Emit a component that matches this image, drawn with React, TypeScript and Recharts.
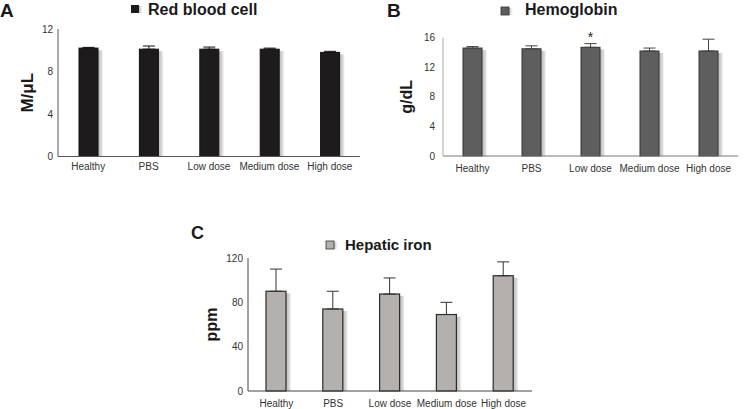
import React from 'react';
import { BarChart, Bar, XAxis, YAxis, ErrorBar, Label } from 'recharts';

const categories = ['Healthy', 'PBS', 'Low dose', 'Medium dose', 'High dose'];

const rbcValues = [10.2, 10.1, 10.1, 10.1, 9.8];
const rbcErrors = [0.07, 0.3, 0.2, 0.1, 0.1];
const rbcTicks = [0, 4, 8, 12];

const hgbValues = [14.6, 14.5, 14.7, 14.2, 14.2];
const hgbErrors = [0.2, 0.4, 0.5, 0.4, 1.6];
const hgbMarks = ['', '', '*', '', ''];
const hgbTicks = [0, 4, 8, 12, 16];

const ironValues = [90, 74, 87.5, 69, 104];
const ironErrors = [20, 16, 14.5, 11, 12.5];
const ironTicks = [0, 40, 80, 120];

const FONT = '"Liberation Sans", Arial, Helvetica, sans-serif';

const build = (values: number[], errors: number[], marks?: string[]) =>
  categories.map((name, i) => ({
    name,
    value: values[i],
    err: [0, errors[i]],
    errTop: errors[i],
    mark: marks ? marks[i] : '',
  }));

const rbcData = build(rbcValues, rbcErrors);
const hgbData = build(hgbValues, hgbErrors, hgbMarks);
const ironData = build(ironValues, ironErrors);

const makeShape = (fill: string, stroke: string, strokeWidth: number, gid: string) => (props: any) => {
  const { x, y, width, height, payload } = props;
  if (width == null || height == null) return null;
  const ppu = payload && payload.value ? height / payload.value : 0;
  const starY = payload && payload.mark ? y - payload.errTop * ppu - 5 : 0;
  return (
    <g>
      <rect x={x + width} y={y + 2} width={6} height={height - 2} fill={`url(#${gid})`} />
      <rect x={x} y={y} width={width} height={height} fill={fill} stroke={stroke} strokeWidth={strokeWidth} />
      {payload && payload.mark ? (
        <text x={x + width / 2} y={starY + 3} textAnchor="middle" fontSize={14} fontFamily={FONT} fill="#222">
          {payload.mark}
        </text>
      ) : null}
    </g>
  );
};

const ShadowDefs = ({ id }: { id: string }) => (
  <defs>
    <linearGradient id={id} x1="0" y1="0" x2="1" y2="0">
      <stop offset="0%" stopColor="#b8b8b8" />
      <stop offset="60%" stopColor="#dcdcdc" />
      <stop offset="100%" stopColor="#ffffff" stopOpacity={0} />
    </linearGradient>
  </defs>
);

const yLabel = (text: string, dx: number, size: number) => (props: any) => {
  const vb = props.viewBox || { x: 0, y: 0, width: 0, height: 0 };
  const cx = vb.x + dx;
  const cy = vb.y + vb.height / 2;
  return (
    <text
      x={cx}
      y={cy}
      transform={`rotate(-90 ${cx} ${cy})`}
      textAnchor="middle"
      fontFamily={FONT}
      fontWeight="bold"
      fontSize={size}
      fill="#1a1a1a"
    >
      {text}
    </text>
  );
};

const tickStyle = { fontSize: 10, fill: '#333', fontFamily: FONT };

export default function App() {
  return (
    <div style={{ position: 'absolute', left: 0, top: 0, width: 745, height: 409, background: '#fff', overflow: 'hidden' }}>
      {/* Panel A */}
      <div style={{ position: 'absolute', left: 0, top: 0 }}>
        <BarChart width={370} height={185} data={rbcData} margin={{ top: 29, right: 10, left: 0, bottom: 3.5 }}>
          <ShadowDefs id="shA" />
          <XAxis dataKey="name" height={25} tickLine={false} tickSize={4} tickMargin={2.5} axisLine={{ stroke: '#555' }} tick={tickStyle} interval={0} />
          <YAxis width={58} domain={[0, 12]} ticks={rbcTicks} tickLine={false} tickSize={3} tickMargin={2} axisLine={{ stroke: '#555' }} tick={tickStyle}>
            <Label content={yLabel('M/\u03bcL', 33, 17)} />
          </YAxis>
          <Bar dataKey="value" barSize={19} isAnimationActive={false} shape={makeShape('#1e1b1c', '#111', 1, 'shA')}>
            <ErrorBar dataKey="err" direction="y" width={6} stroke="#111" strokeWidth={1} isAnimationActive={false} />
          </Bar>
        </BarChart>
      </div>

      {/* Panel B */}
      <div style={{ position: 'absolute', left: 380, top: 0 }}>
        <BarChart width={365} height={185} data={hgbData} margin={{ top: 37.7, right: 7, left: 0, bottom: 4 }}>
          <ShadowDefs id="shB" />
          <XAxis dataKey="name" height={25} tickLine={false} tickSize={6} tickMargin={3} axisLine={{ stroke: '#777' }} tick={tickStyle} interval={0} />
          <YAxis width={63} domain={[0, 16]} ticks={hgbTicks} tickLine={false} tickSize={6} tickMargin={2} axisLine={{ stroke: '#aaa' }} tick={tickStyle}>
            <Label content={yLabel('g/dL', 32, 16)} />
          </YAxis>
          <Bar dataKey="value" barSize={19} isAnimationActive={false} shape={makeShape('#5e5e5e', '#333', 1, 'shB')}>
            <ErrorBar dataKey="err" direction="y" width={6} stroke="#444" strokeWidth={1} isAnimationActive={false} />
          </Bar>
        </BarChart>
      </div>

      {/* Panel C */}
      <div style={{ position: 'absolute', left: 180, top: 220 }}>
        <BarChart width={370} height={189} data={ironData} margin={{ top: 38, right: 18, left: 0, bottom: 0 }}>
          <ShadowDefs id="shC" />
          <XAxis dataKey="name" height={18} tickLine={false} tickSize={6} tickMargin={3} axisLine={{ stroke: '#444' }} tick={tickStyle} interval={0} />
          <YAxis width={68} domain={[0, 120]} ticks={ironTicks} tickLine={false} tickSize={3} tickMargin={2} axisLine={{ stroke: '#444' }} tick={tickStyle}>
            <Label content={yLabel('ppm', 37, 16)} />
          </YAxis>
          <Bar dataKey="value" barSize={20} isAnimationActive={false} shape={makeShape('#b4b0ae', '#2b2b2b', 1.2, 'shC')}>
            <ErrorBar dataKey="err" direction="y" width={6} stroke="#333" strokeWidth={1} isAnimationActive={false} />
          </Bar>
        </BarChart>
      </div>

      {/* Panel letters, titles and legend keys */}
      <svg width={745} height={409} style={{ position: 'absolute', left: 0, top: 0, pointerEvents: 'none' }}>
        <defs>
          <linearGradient id="lgSh" x1="0" y1="0" x2="1" y2="0">
            <stop offset="0%" stopColor="#b8b8b8" />
            <stop offset="100%" stopColor="#ffffff" stopOpacity={0} />
          </linearGradient>
        </defs>
        <g fontFamily={FONT} fontWeight="bold" fill="#1a1a1a">
          <text x={0} y={16.7} fontSize={19}>A</text>
          <text x={387} y={17} fontSize={19}>B</text>
          <text x={191} y={239} fontSize={18}>C</text>
          <text x={148} y={15} fontSize={16}>Red blood cell</text>
          <text x={525} y={14.5} fontSize={16}>Hemoglobin</text>
          <text x={345} y={249.5} fontSize={15}>Hepatic iron</text>
        </g>
        <rect x={139} y={6} width={5} height={7} fill="url(#lgSh)" />
        <rect x={131} y={5} width={8} height={8} fill="#1e1b1c" />
        <rect x={509} y={8} width={5} height={7} fill="url(#lgSh)" />
        <rect x={501} y={7} width={8} height={8} fill="#5e5e5e" stroke="#333" strokeWidth={0.8} />
        <rect x={334} y={242} width={5} height={7} fill="url(#lgSh)" />
        <rect x={326} y={241} width={8} height={8} fill="#b4b0ae" stroke="#333" strokeWidth={0.8} />
      </svg>
    </div>
  );
}
